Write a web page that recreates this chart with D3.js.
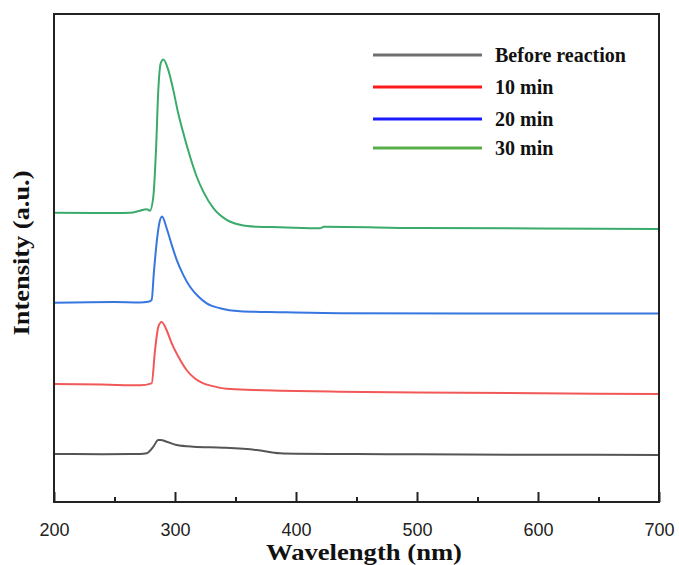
<!DOCTYPE html>
<html>

<head>
    <script src="https://d3js.org/d3.v7.min.js"></script>
    <style>
        body {
            margin: 0;
            background: white;
        }

        .tick text {
            font-family: "Liberation Sans", Arial, sans-serif;
            font-size: 18px;
            fill: #222;
        }
    </style>
</head>

<body>
    <div id="chart"></div>

    <script>
        // spectra (wavelength nm, intensity a.u.)
        var seriesNames = ["Before reaction", "10 min", "20 min", "30 min"];

        var beforeNm = [200, 240, 271, 276.6, 282, 286.2, 288.2, 293.1, 301.4, 315.1, 339.9, 367.5, 386.8, 400, 450, 500, 600, 700];
        var beforeI = [9.84, 9.8, 9.84, 9.98, 11.3, 12.7, 12.7, 12.36, 11.68, 11.33, 11.13, 10.66, 9.98, 9.9, 9.84, 9.77, 9.69, 9.63];

        var min10Nm = [200, 240, 271, 280.7, 283.5, 286.2, 289, 293.1, 297.3, 302.7, 309.7, 316.5, 323.4, 330.3, 342.7, 364.7, 386.8, 436, 500, 600, 700];
        var min10I = [24.18, 24.08, 23.9, 24.3, 31.1, 35.9, 36.9, 35.2, 32.5, 29.8, 27.0, 25.3, 24.3, 23.8, 23.2, 22.95, 22.8, 22.6, 22.44, 22.28, 22.13];

        var min20Nm = [200, 250, 271, 277.9, 280.7, 282.6, 284.9, 287, 289.3, 293.1, 297.3, 301.4, 306.9, 312.4, 319.3, 326.2, 337.2, 353.7, 386.8, 436, 550, 700];
        var min20I = [40.84, 40.98, 40.9, 41.05, 41.4, 47.2, 53.3, 57.1, 58.5, 56.1, 52.7, 49.6, 46.5, 44.1, 42.1, 40.7, 39.7, 39.1, 38.9, 38.7, 38.63, 38.63];

        var min30Nm = [200, 250, 263, 271.1, 276.6, 279.3, 282.1, 284.3, 286.2, 288.2, 290.4, 294.5, 298.6, 302.7, 306.9, 312.4, 317.9, 323.4, 331.7, 342.7, 353.7, 367.5, 386.8, 420, 423, 500, 600, 700];
        var min30I = [59.28, 59.22, 59.28, 59.7, 60.0, 59.7, 62.6, 72.1, 84.4, 89.9, 90.7, 88.5, 84.4, 79.6, 75.6, 70.8, 66.7, 63.6, 60.2, 57.8, 56.8, 56.4, 56.3, 56.09, 56.41, 56.15, 56.05, 55.94];

        var majorTicks = [200, 300, 400, 500, 600, 700];
        var minorTicks = [250, 350, 450, 550, 650];

        var lineColors = ["#555555", "#f25858", "#3676e0", "#3aab6a"];
        var legendColors = ["#707070", "#ff1a1a", "#1a1aff", "#5aad48"];

        var width = 679, height = 565;
        var margin = { top: 14, right: 20, bottom: 63, left: 54 };

        var svg = d3.select("#chart").append("svg")
            .attr("width", width)
            .attr("height", height);

        var xs = d3.scaleLinear().domain([200, 700]).range([margin.left, width - margin.right]);
        var ys = d3.scaleLinear().domain([0, 100]).range([height - margin.bottom, margin.top]);

        var series = [
            d3.zip(beforeNm, beforeI),
            d3.zip(min10Nm, min10I),
            d3.zip(min20Nm, min20I),
            d3.zip(min30Nm, min30I)
        ];

        var line = d3.line()
            .x(function (d) { return xs(d[0]); })
            .y(function (d) { return ys(d[1]); })
            .curve(d3.curveMonotoneX);

        svg.selectAll("path.spec")
            .data(series)
            .enter()
            .append("path")
            .attr("class", "spec")
            .attr("d", line)
            .attr("fill", "none")
            .attr("stroke", function (d, i) { return lineColors[i]; })
            .attr("stroke-width", 2);

        // frame
        svg.append("rect")
            .attr("x", xs(200))
            .attr("y", ys(100))
            .attr("width", xs(700) - xs(200))
            .attr("height", ys(0) - ys(100))
            .attr("fill", "none")
            .attr("stroke", "#222")
            .attr("stroke-width", 2);

        // x axis, ticks pointing in
        var xAxis = d3.axisBottom(xs).tickValues(majorTicks).tickSizeInner(-10).tickSizeOuter(0).tickPadding(21);
        var gx = svg.append("g").attr("transform", "translate(0," + ys(0) + ")").call(xAxis);
        gx.select(".domain").remove();
        gx.selectAll(".tick line").attr("stroke", "#222").attr("stroke-width", 2);

        var xMinor = d3.axisBottom(xs).tickValues(minorTicks).tickSizeInner(-5).tickSizeOuter(0).tickFormat("");
        var gm = svg.append("g").attr("transform", "translate(0," + ys(0) + ")").call(xMinor);
        gm.select(".domain").remove();
        gm.selectAll(".tick line").attr("stroke", "#222").attr("stroke-width", 2);

        svg.append("text")
            .attr("x", 364)
            .attr("y", 560)
            .attr("text-anchor", "middle")
            .attr("textLength", 196)
            .attr("lengthAdjust", "spacingAndGlyphs")
            .style("font-family", "'Liberation Serif', 'Times New Roman', serif")
            .style("font-weight", "bold")
            .style("font-size", "23px")
            .attr("fill", "#111")
            .text("Wavelength (nm)");

        svg.append("text")
            .attr("transform", "translate(29,253) rotate(-90)")
            .attr("text-anchor", "middle")
            .attr("textLength", 165)
            .attr("lengthAdjust", "spacingAndGlyphs")
            .style("font-family", "'Liberation Serif', 'Times New Roman', serif")
            .style("font-weight", "bold")
            .style("font-size", "23px")
            .attr("fill", "#111")
            .text("Intensity (a.u.)");

        //legend
        var legendY = [55, 87, 119, 148];
        var lg = svg.append("g");
        seriesNames.forEach(function (name, i) {
            lg.append("line")
                .attr("x1", 373).attr("x2", 482)
                .attr("y1", legendY[i]).attr("y2", legendY[i])
                .attr("stroke", legendColors[i])
                .attr("stroke-width", 3);
            lg.append("text")
                .attr("x", 495)
                .attr("y", legendY[i] + 7)
                .style("font-family", "'Liberation Serif', 'Times New Roman', serif")
                .style("font-weight", "bold")
                .style("font-size", "20px")
                .attr("fill", "#111")
                .text(name);
        });
    </script>
</body>

</html>
